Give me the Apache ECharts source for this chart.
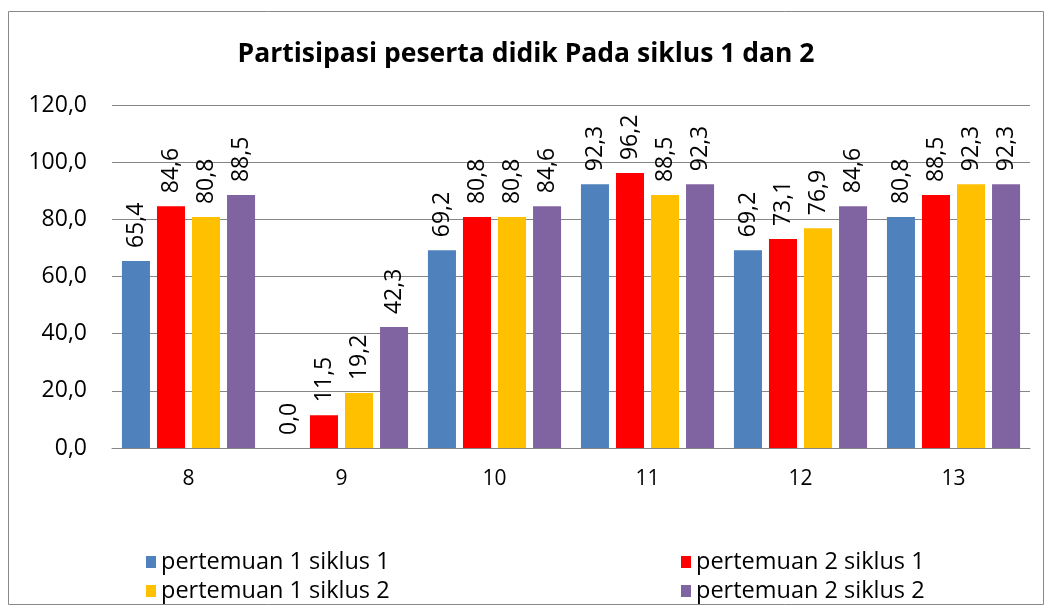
<!DOCTYPE html>
<html>
<head>
<meta charset="utf-8">
<script src="https://cdn.jsdelivr.net/npm/echarts@6/dist/echarts.min.js"></script>
<style>
  html, body { margin: 0; padding: 0; background: #fff; }
  #chart { width: 1052px; height: 614px; }
</style>
</head>
<body>
<div id="chart"></div>
<script>
// data
var categories = ['8', '9', '10', '11', '12', '13'];
var seriesNames = ['pertemuan 1 siklus 1', 'pertemuan 2 siklus 1', 'pertemuan 1 siklus 2', 'pertemuan 2 siklus 2'];
var p1s1 = [65.4, 0.0, 69.2, 92.3, 69.2, 80.8];
var p2s1 = [84.6, 11.5, 80.8, 96.2, 73.1, 88.5];
var p1s2 = [80.8, 19.2, 80.8, 88.5, 76.9, 92.3];
var p2s2 = [88.5, 42.3, 84.6, 92.3, 84.6, 92.3];
var colorList = ['#4F81BD', '#FF0000', '#FFC000', '#8064A2'];

var fontFam = '"Open Sans", "Noto Sans", sans-serif';
function koma(v) { return v.toFixed(1).replace('.', ','); }

var myChart = echarts.init(document.getElementById('chart'));
var option = {
  color: colorList,
  textStyle: { fontFamily: fontFam },
  graphic: [{
    type: 'rect',
    shape: { x: 8.5, y: 11.5, width: 1035, height: 593 },
    style: { fill: 'none', stroke: '#898989', lineWidth: 1 },
    silent: true
  }],
  title: {
    text: 'Partisipasi peserta didik Pada siklus 1 dan 2',
    left: 'center',
    top: 36,
    textStyle: { fontSize: 26.5, fontWeight: 'bold', color: '#000', fontFamily: fontFam }
  },
  legend: [{
    data: [seriesNames[0], seriesNames[2]],
    orient: 'vertical',
    left: 141,
    top: 545,
    itemWidth: 10,
    itemHeight: 12,
    itemGap: 5,
    icon: 'rect',
    textStyle: { fontSize: 23.5, color: '#000', fontFamily: fontFam }
  }, {
    data: [seriesNames[1], seriesNames[3]],
    orient: 'vertical',
    left: 676,
    top: 545,
    itemWidth: 10,
    itemHeight: 12,
    itemGap: 5,
    icon: 'rect',
    textStyle: { fontSize: 23.5, color: '#000', fontFamily: fontFam }
  }],
  grid: { left: 112, right: 22, top: 105, bottom: 166, containLabel: false },
  xAxis: {
    type: 'category',
    data: categories,
    axisLine: { lineStyle: { color: '#868686', width: 1 } },
    axisTick: { show: false },
    axisLabel: { fontSize: 21, color: '#000', margin: 21 }
  },
  yAxis: {
    type: 'value',
    min: 0,
    max: 120,
    interval: 20,
    axisLine: { show: false },
    axisTick: { show: false },
    axisLabel: { fontSize: 23, color: '#000', margin: 25, formatter: function (v) { return koma(v); } },
    splitLine: { lineStyle: { color: '#868686', width: 1 } }
  },
  series: [p1s1, p2s1, p1s2, p2s2].map(function (d, i) {
    return {
      name: seriesNames[i],
      type: 'bar',
      data: d,
      barGap: '25%',
      barCategoryGap: '13%',
      label: {
        show: true,
        position: 'top',
        rotate: 90,
        align: 'left',
        verticalAlign: 'middle',
        distance: 13,
        fontSize: 23,
        color: '#000',
        formatter: function (p) { return koma(p.value); }
      }
    };
  })
};
myChart.setOption(option);
</script>
</body>
</html>
